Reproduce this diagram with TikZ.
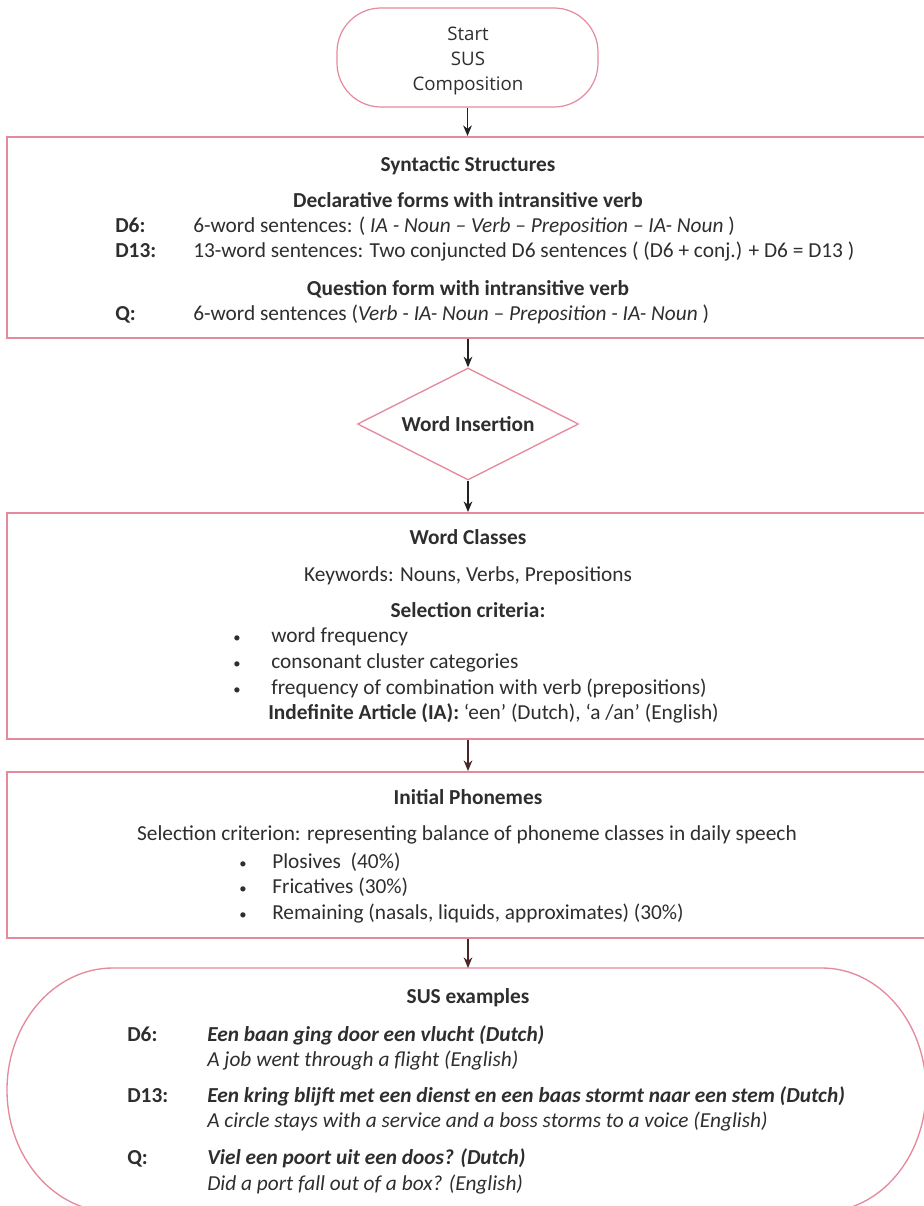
\documentclass[tikz,border=0pt]{standalone}
\usepackage{fontspec}
\setmainfont{Carlito}
\newfontfamily\startfont{Open Sans}
\usetikzlibrary{shapes.geometric,arrows.meta}
\definecolor{pinkline}{HTML}{E58A9C}
\definecolor{txt}{HTML}{2E2E2E}
\definecolor{arrdark}{HTML}{222222}
\definecolor{arrbrown}{HTML}{4A2628}
\begin{document}
\begin{tikzpicture}[x=0.75pt,y=-0.75pt,
  every node/.style={text=txt, font=\fontsize{16}{19}\selectfont, inner sep=0pt},
  box/.style={draw=pinkline, line width=1.4pt, rectangle},
  tx/.style={yshift=-2.4pt},
  hd/.style={tx, anchor=mid, font=\fontsize{16}{19}\selectfont\bfseries},
  ctr/.style={tx, anchor=mid},
  ln/.style={tx, anchor=mid west},
  lab/.style={tx, anchor=mid west, font=\fontsize{16}{19}\selectfont\bfseries},
  bi/.style={tx, anchor=mid west, font=\fontsize{16}{19}\selectfont\bfseries\itshape},
  it/.style={tx, anchor=mid west, font=\fontsize{16}{19}\selectfont\itshape},
  bul/.style={tx, anchor=center, font=\fontsize{11}{11}\selectfont},
  arr/.style={-{Stealth[length=8pt,width=6.5pt]}, line width=1.1pt, draw=arrdark},
  arrb/.style={-{Stealth[length=8pt,width=6.5pt]}, line width=1.1pt, draw=arrbrown}]
\useasboundingbox (0,0) rectangle (924,1206);
\clip (0,0) rectangle (924,1206);
\fill[white] (0,0) rectangle (924,1206);

% start
\node[draw=pinkline, line width=0.9pt, rounded corners=33pt, minimum width=195.75pt,
      minimum height=74.25pt] (start) at (467.5,57.5) {};
\node[align=center, font=\startfont\fontsize{14}{18.4}\selectfont] (starttxt) at (468,61) {Start\\SUS\\Composition};

% boxes
\node[box, minimum width=703.5pt, minimum height=150.75pt] (box1) at (476,237.5) {};
\node[diamond, aspect=2, draw=pinkline, line width=1pt, minimum width=165.75pt, minimum height=84pt,
      font=\fontsize{16}{19}\selectfont\bfseries] (dia) at (468,424) {Word Insertion};
\node[box, minimum width=703.5pt, minimum height=169.5pt] (box2) at (476,626) {};
\node[box, minimum width=703.5pt, minimum height=124.5pt] (box3) at (476,855) {};
\draw[draw=pinkline, line width=1pt] (113,968) -- (822,968)
   arc[start angle=-90, end angle=90, x radius=104, y radius=122] -- (113,1212)
   arc[start angle=90, end angle=270, x radius=106, y radius=122] -- cycle;
\coordinate (sustop) at (468,968);

% arrows
\draw[arr] (start.south) -- (start.south |- box1.north);
\draw[arr] (dia.north |- box1.south) -- (dia.north);
\draw[arr] (dia.south) -- (dia.south |- box2.north);
\draw[arrb] (dia.south |- box2.south) -- (dia.south |- box3.north);
\draw[arrb] (dia.south |- box3.south) -- (sustop);

% box1 text
\node[hd] (ss) at (468,165) {Syntactic Structures};
\node[hd] (decl) at (468,201) {Declarative forms with intransitive verb};
\node[lab] (d6l) at (115,226) {D6:};
\node[ln] (d6t) at (193,226) {6-word sentences: ( \textit{IA - Noun – Verb – Preposition – IA- Noun} )};
\node[lab] (d13l) at (115,251) {D13:};
\node[ln] (d13t) at (193,251) {13-word sentences: Two conjuncted D6 sentences ( (D6 + conj.) + D6 = D13 )};
\node[hd] (qf) at (468,289) {Question form with intransitive verb};
\node[lab] (ql) at (115,314) {Q:};
\node[ln] (qt) at (193,314) {6-word sentences (\textit{Verb - IA- Noun – Preposition - IA- Noun} )};

% box2 text
\node[hd] (wc) at (468,538) {Word Classes};
\node[ctr] (kw) at (468,575) {Keywords: Nouns, Verbs, Prepositions};
\node[hd] (sc) at (468,611) {Selection criteria:};
\node[bul] (b1) at (237,636) {•};
\node[ln] (t1) at (271,636) {word frequency};
\node[bul] (b2) at (237,662) {•};
\node[ln] (t2) at (271,662) {consonant cluster categories};
\node[bul] (b3) at (237,688) {•};
\node[ln] (t3) at (271,688) {frequency of combination with verb (prepositions)};
\node[ln] (ia) at (268,713) {\textbf{Indefinite Article (IA):} ‘een’ (Dutch), ‘a /an’ (English)};

% box3 text
\node[hd] (ip) at (468,798) {Initial Phonemes};
\node[ctr] (scr) at (467,834) {Selection criterion: representing balance of phoneme classes in daily speech};
\node[bul] (c1) at (243,862) {•};
\node[ln] (u1) at (272,862) {Plosives~~(40\%)};
\node[bul] (c2) at (243,887) {•};
\node[ln] (u2) at (272,887) {Fricatives (30\%)};
\node[bul] (c3) at (243,913) {•};
\node[ln] (u3) at (272,913) {Remaining (nasals, liquids, approximates) (30\%)};

% examples
\node[hd] (se) at (468,997) {SUS examples};
\node[lab] (e1l) at (127,1035) {D6:};
\node[bi] (e1d) at (207,1035) {Een baan ging door een vlucht (Dutch)};
\node[it] (e1e) at (207,1060) {A job went through a flight (English)};
\node[lab] (e2l) at (127,1096) {D13:};
\node[bi] (e2d) at (207,1096) {Een kring blijft met een dienst en een baas stormt naar een stem (Dutch)};
\node[it] (e2e) at (207,1121) {A circle stays with a service and a boss storms to a voice (English)};
\node[lab] (e3l) at (127,1158) {Q:};
\node[bi] (e3d) at (207,1158) {Viel een poort uit een doos? (Dutch)};
\node[it] (e3e) at (207,1184) {Did a port fall out of a box? (English)};
\end{tikzpicture}
\end{document}
